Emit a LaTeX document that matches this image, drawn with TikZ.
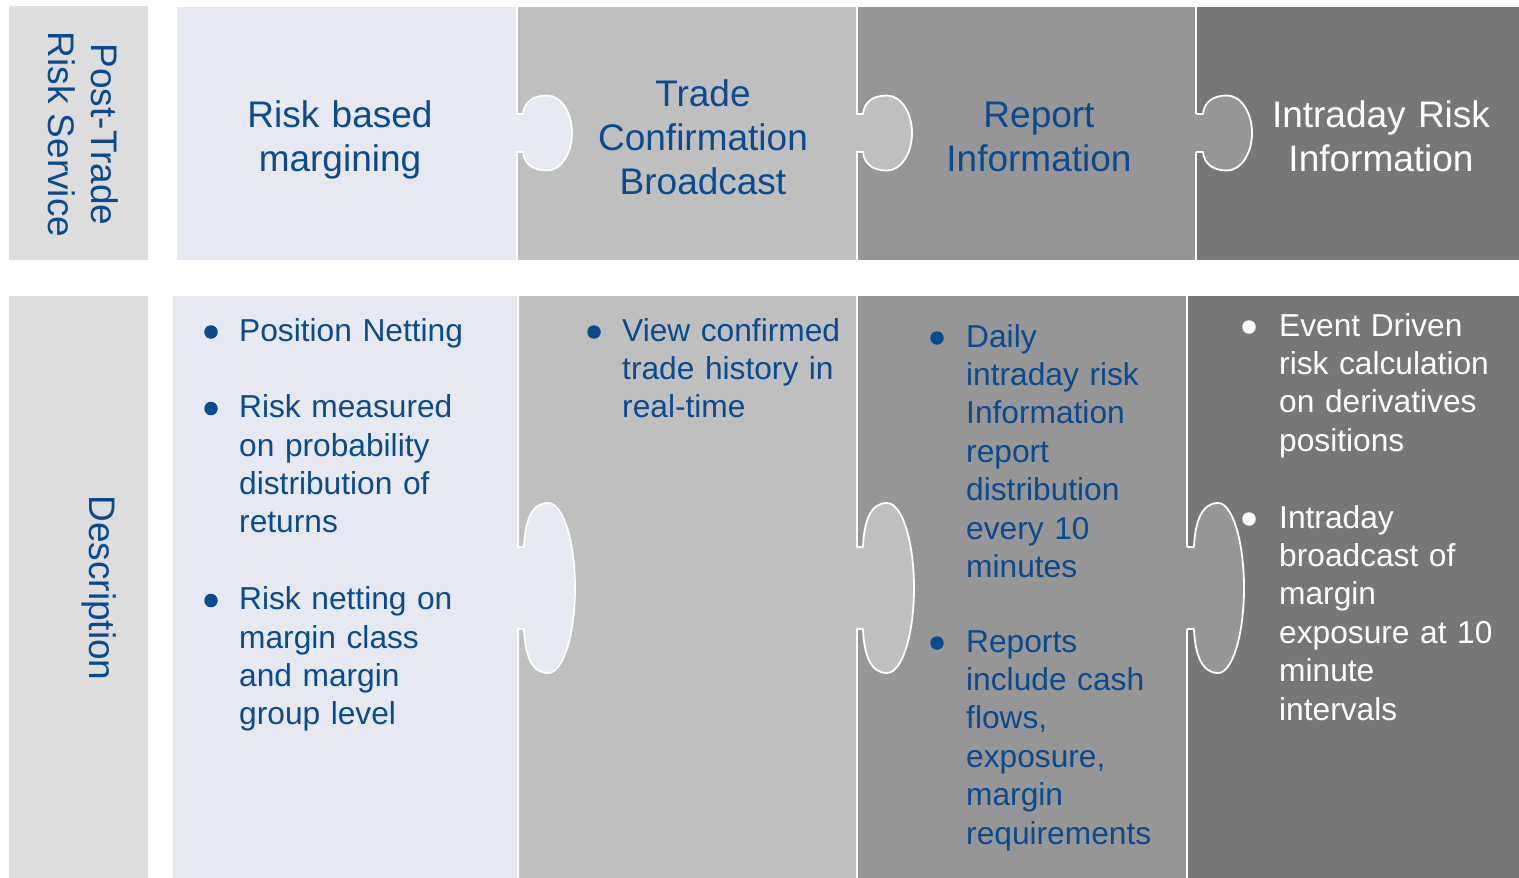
\documentclass[tikz,border=0pt]{standalone}
\usepackage{fontspec}
\setmainfont{Liberation Sans}
\definecolor{lbl}{HTML}{DDDDDD}
\definecolor{pa}{HTML}{E6E9F2}
\definecolor{pb}{HTML}{BFBFBF}
\definecolor{pc}{HTML}{969696}
\definecolor{pd}{HTML}{777777}
\definecolor{txt}{HTML}{0A4A8E}
% #1 boundary x, #2 centre y, #3 neck half height, #4 bulb half height, #5 bulb half width, #6 colour
\newcommand\puzzletab[6]{%
  \fill[#6] ({#1-1},{#2-#3}) -- ({#1+7},{#2-#3})
    .. controls ({#1+8},{#2-#3-(#4-#3)*0.6}) and ({#1+31-#5*0.6},{#2-#4}) .. ({#1+31},{#2-#4})
    .. controls ({#1+31+#5*0.552},{#2-#4}) and ({#1+31+#5},{#2-#4*0.552}) .. ({#1+31+#5},#2)
    .. controls ({#1+31+#5},{#2+#4*0.552}) and ({#1+31+#5*0.552},{#2+#4}) .. ({#1+31},{#2+#4})
    .. controls ({#1+31-#5*0.6},{#2+#4}) and ({#1+8},{#2+#3+(#4-#3)*0.6}) .. ({#1+7},{#2+#3})
    -- ({#1-1},{#2+#3}) -- cycle;
  \draw[white, line width=1.8pt, line join=round] (#1,{#2-#3}) -- ({#1+7},{#2-#3})
    .. controls ({#1+8},{#2-#3-(#4-#3)*0.6}) and ({#1+31-#5*0.6},{#2-#4}) .. ({#1+31},{#2-#4})
    .. controls ({#1+31+#5*0.552},{#2-#4}) and ({#1+31+#5},{#2-#4*0.552}) .. ({#1+31+#5},#2)
    .. controls ({#1+31+#5},{#2+#4*0.552}) and ({#1+31+#5*0.552},{#2+#4}) .. ({#1+31},{#2+#4})
    .. controls ({#1+31-#5*0.6},{#2+#4}) and ({#1+8},{#2+#3+(#4-#3)*0.6}) .. ({#1+7},{#2+#3})
    -- (#1,{#2+#3});}
\begin{document}
\begin{tikzpicture}[x=1pt,y=-1pt,
  title/.style={text width=360pt, align=center, inner sep=0pt, anchor=north,
    font=\fontsize{37}{44}\selectfont, text=txt},
  item/.style={text width=300pt, align=left, inner sep=0pt, anchor=north west,
    font=\fontsize{31.7}{38.4}\selectfont, text=txt},
  dot/.style={circle, fill=txt, inner sep=0pt, minimum size=13.5pt},
  side/.style={rotate=-90, align=center, inner sep=0pt,
    font=\fontsize{37}{43}\selectfont, text=txt},
]
\useasboundingbox (0,0) rectangle (1519,878);
\fill[white] (0,0) rectangle (1519,878);
% side labels
\fill[lbl] (9,6) rectangle (148,260);
\fill[lbl] (9,296) rectangle (148,878);
% top row
\fill[pa] (177,7) rectangle (516,260);
\fill[pb] (518,7) rectangle (856,260);
\fill[pc] (858,7) rectangle (1195,260);
\fill[pd] (1197,7) rectangle (1519,260);
% bottom row
\fill[pa] (173,296) rectangle (517,878);
\fill[pb] (519,296) rectangle (856,878);
\fill[pc] (858,296) rectangle (1186,878);
\fill[pd] (1188,296) rectangle (1519,878);
% puzzle tabs
\puzzletab{516}{133}{19}{37.5}{25}{pa}
\puzzletab{856}{133}{19}{37.5}{25}{pb}
\puzzletab{1196}{133}{19}{37.5}{25}{pc}
\puzzletab{517}{588}{41}{85}{27}{pa}
\puzzletab{856}{588}{41}{85}{27}{pb}
\puzzletab{1187}{588}{41}{85}{26}{pc}
% side texts
\node[side] (s1) at (83.5,134.5) {Post-Trade\\Risk Service};
\node[side] (s2) at (99.5,588) {Description};
% titles
\node[title] (t1) at (340,96.2) {\strut Risk based\\margining};
\node[title] (t2) at (703,75.2) {\strut Trade\\Confirmation\\Broadcast};
\node[title] (t3) at (1039,96.2) {\strut Report\\Information};
\node[title, text=white] (t4) at (1381,96.2) {\strut Intraday Risk\\Information};
% panel 1 items
\node[dot] (d11) at (211,332) {};
\node[item] (i11) at (239,314.1) {\strut Position Netting};
\node[dot] (d12) at (211,408.5) {};
\node[item] (i12) at (239,390.6) {\strut Risk measured\\on probability\\distribution of\\returns};
\node[dot] (d13) at (211,600.5) {};
\node[item] (i13) at (239,582.6) {\strut Risk netting on\\margin class\\and margin\\group level};
% panel 2 items
\node[dot] (d21) at (594,332) {};
\node[item] (i21) at (622,314.1) {\strut View confirmed\\trade history in\\real-time};
% panel 3 items
\node[dot] (d31) at (937,338) {};
\node[item] (i31) at (966,320.1) {\strut Daily\\intraday risk\\Information\\report\\distribution\\every 10\\minutes};
\node[dot] (d32) at (937,643) {};
\node[item] (i32) at (966,625.1) {\strut Reports\\include cash\\flows,\\exposure,\\margin\\requirements};
% panel 4 items
\node[dot, fill=white] (d41) at (1249,327) {};
\node[item, text=white] (i41) at (1279,309.1) {\strut Event Driven\\risk calculation\\on derivatives\\positions};
\node[dot, fill=white] (d42) at (1249,519) {};
\node[item, text=white] (i42) at (1279,501.1) {\strut Intraday\\broadcast of\\margin\\exposure at 10\\minute\\intervals};
\end{tikzpicture}
\end{document}
